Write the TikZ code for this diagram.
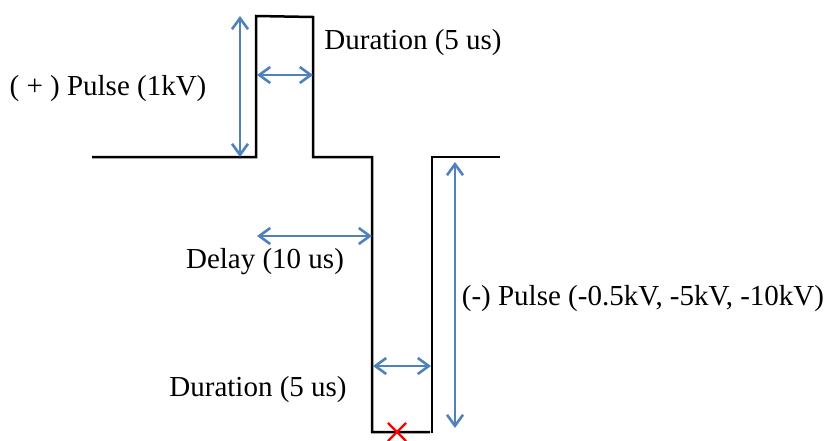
\documentclass[tikz,border=0pt]{standalone}
\usepackage{fontspec}
\setmainfont{Liberation Serif}
\usetikzlibrary{arrows.meta,shapes.misc}
\definecolor{cDim}{HTML}{4F81BD}
\definecolor{cMark}{HTML}{FF0000}
\tikzset{
  wave/.style={line width=1.25pt,black},
  dim/.style={{Straight Barb[length=5.5pt,width=8pt]}-{Straight Barb[length=5.5pt,width=8pt]},line width=1.3pt,cDim},
  lbl/.style={font=\fontsize{14.5}{17}\selectfont,inner sep=0pt,anchor=base},
  xmark/.style={cross out,draw=cMark,line width=1.1pt,minimum size=8pt,inner sep=0pt},
}
\begin{document}
\begin{tikzpicture}[x=0.5pt,y=-0.5pt]
  \useasboundingbox (0,0) rectangle (835,440);
  % waveform
  \coordinate (w0) at (92,157);
  \coordinate (w1) at (256,157);
  \coordinate (w2) at (256,16);
  \coordinate (w3) at (313,17);
  \coordinate (w4) at (313,157);
  \coordinate (w5) at (372,157);
  \coordinate (w6) at (372,432);
  \coordinate (w7) at (430,432);
  \coordinate (w8) at (432,433);
  \coordinate (w9) at (432,157);
  \coordinate (w10) at (500,157);
  \draw[wave] (w0) -- (w1) -- (w2) -- (w3) -- (w4) -- (w5) -- (w6) -- (w7);
  \draw[wave] (w8) -- (w9) -- (w10);
  % dimension arrows
  \coordinate (ampTop) at (240,16);
  \coordinate (ampBot) at (240,157);
  \coordinate (durL) at (257,75);
  \coordinate (durR) at (313,75);
  \coordinate (dlyL) at (257,236);
  \coordinate (dlyR) at (372,236);
  \coordinate (negL) at (373,366);
  \coordinate (negR) at (431,366);
  \coordinate (negTop) at (455,162);
  \coordinate (negBot) at (455,428);
  \draw[dim] (ampTop) -- (ampBot);
  \draw[dim] (durL) -- (durR);
  \draw[dim] (dlyL) -- (dlyR);
  \draw[dim] (negL) -- (negR);
  \draw[dim] (negTop) -- (negBot);
  % labels
  \node[lbl] (posPulse) at (108,95) {( + ) Pulse (1kV)};
  \node[lbl] (durTop) at (413,49) {Duration (5 us)};
  \node[lbl] (delay) at (265,268) {Delay (10 us)};
  \node[lbl] (negPulse) at (643,305) {(-) Pulse (-0.5kV, -5kV, -10kV)};
  \node[lbl] (durBot) at (258,396) {Duration (5 us)};
  % marker
  \node[xmark] (mk) at (397,432) {};
\end{tikzpicture}
\end{document}
